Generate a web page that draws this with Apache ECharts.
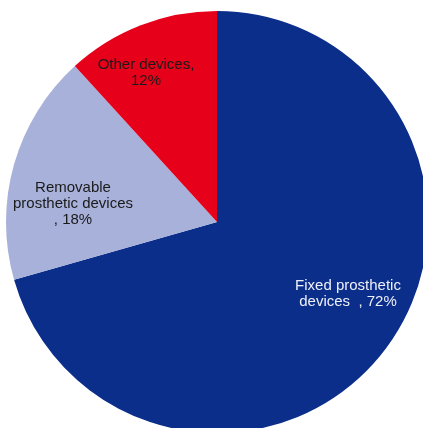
<!DOCTYPE html>
<html>
<head>
<meta charset="utf-8">
<script src="https://cdn.jsdelivr.net/npm/echarts@6/dist/echarts.min.js"></script>
<style>
  html, body { margin: 0; padding: 0; background: #ffffff; }
  #chart { width: 423px; height: 428px; }
</style>
</head>
<body>
<div id="chart"></div>
<script>
// Device categories and their shares (%)
const categories = ['Fixed prosthetic devices', 'Removable prosthetic devices', 'Other devices'];
const shares = [72, 18, 12];
const labelTexts = [
  'Fixed prosthetic\ndevices  , 72%',
  'Removable\nprosthetic devices\n, 18%',
  'Other devices,\n12%'
];

// Styling
const sliceColors = ['#0b2e8b', '#a8b1da', '#e6001a'];
const labelColors = ['#eef0f8', '#1a1a1a', '#1a1a1a'];
const pieCenter = [217, 222];
const pieRadius = 211;
// label anchor offsets from the pie centre, in px
const labelOffsets = [[131, 72], [-144, -18], [-71, -149]];

const chart = echarts.init(document.getElementById('chart'), null, { renderer: 'canvas' });

const data = categories.map((name, i) => ({
  name: name,
  value: shares[i],
  itemStyle: { color: sliceColors[i] },
  label: { color: labelColors[i], formatter: labelTexts[i] }
}));

chart.setOption({
  animation: false,
  backgroundColor: '#ffffff',
  series: [{
    type: 'pie',
    center: pieCenter,
    radius: [0, pieRadius],
    startAngle: 90,
    clockwise: true,
    avoidLabelOverlap: false,
    itemStyle: { borderWidth: 0 },
    label: {
      show: true,
      position: 'inside',
      fontFamily: 'Liberation Sans, Arial, sans-serif',
      fontSize: 15,
      lineHeight: 16,
      align: 'center'
    },
    labelLine: { show: false },
    labelLayout: function (p) {
      const o = labelOffsets[p.dataIndex];
      return { x: pieCenter[0] + o[0], y: pieCenter[1] + o[1] };
    },
    emphasis: { disabled: true },
    data: data
  }]
});
</script>
</body>
</html>
